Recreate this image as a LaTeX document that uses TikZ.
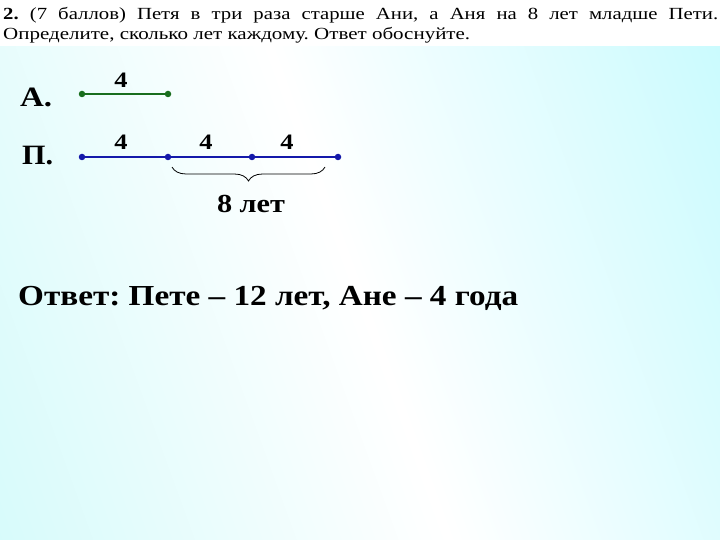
\documentclass[tikz,border=0pt]{standalone}
\usepackage{fontspec}
\usepackage{graphicx}
\setmainfont{Liberation Serif}
\usetikzlibrary{decorations.pathreplacing}
\frenchspacing
\definecolor{bgcyan}{RGB}{196,250,254}
\definecolor{bgcyanL}{RGB}{210,250,250}
\definecolor{segA}{RGB}{25,110,30}
\definecolor{segP}{RGB}{20,25,170}
\tikzset{
  dot/.style={circle,fill=#1,inner sep=0pt,minimum size=6.5pt},
  seg/.style={line width=2.8pt,draw=#1},
  numlbl/.style={font=\fontsize{22}{24}\selectfont\bfseries,inner sep=0pt,anchor=base},
  rowlbl/.style={font=\fontsize{28}{30}\selectfont\bfseries,anchor=base west,inner sep=0pt},
  toptext/.style={font=\fontsize{17}{19}\selectfont,anchor=base west,inner sep=0pt},
}
\begin{document}
\begin{tikzpicture}[x=1pt,y=-1pt]
\useasboundingbox (0,0) rectangle (720,540);
% background
\begin{scope}
\clip (0,46) rectangle (720,540);
\shade[left color=bgcyanL,right color=bgcyan,middle color=white,shading angle=110] (-150,-100) rectangle (870,690);
\end{scope}
\fill[white] (0,0) rectangle (720,46);
% header
\node[toptext] (q1) at (3,20) {\resizebox{715pt}{\height}{\makebox[586pt][s]{\textbf{2.} (7 баллов) Петя в три раза старше Ани, а Аня на 8 лет младше Пети.}}};
\node[toptext] (q2) at (3,40) {\resizebox{467pt}{\height}{Определите, сколько лет каждому. Ответ обоснуйте.}};
% row labels
\node[rowlbl] (la) at (20,107) {\resizebox{32pt}{\height}{А.}};
\node[rowlbl] (lp) at (22,165) {\resizebox{31pt}{\height}{П.}};
% Anya
\node[dot=segA] (a0) at (82,94) {};
\node[dot=segA] (a1) at (168,94) {};
\draw[seg=segA] (a0) -- (a1);
\node[numlbl] (na) at (121,88) {\scalebox{1.2}[1]{4}};
% Petya
\node[dot=segP] (p0) at (82,157) {};
\node[dot=segP] (p1) at (168,157) {};
\node[dot=segP] (p2) at (252,157) {};
\node[dot=segP] (p3) at (338,157) {};
\draw[seg=segP] (p0) -- (p1) -- (p2) -- (p3);
\node[numlbl] (n1) at (121,150) {\scalebox{1.2}[1]{4}};
\node[numlbl] (n2) at (206,150) {\scalebox{1.2}[1]{4}};
\node[numlbl] (n3) at (287,150) {\scalebox{1.2}[1]{4}};
% brace
\coordinate (b0) at (172,167);
\coordinate (b1) at (325,167);
\draw[line width=0.8pt,decorate,decoration={brace,amplitude=14pt,mirror}] (b0) -- (b1);
\node[font=\fontsize{26}{28}\selectfont\bfseries,inner sep=0pt,anchor=base] (eight) at (251,212) {\resizebox{68pt}{\height}{8 лет}};
% answer
\node[font=\fontsize{29}{31}\selectfont\bfseries,anchor=base west,inner sep=0pt] (ans) at (18,305) {\resizebox{500pt}{\height}{Ответ: Пете – 12 лет, Ане – 4 года}};
\end{tikzpicture}
\end{document}
